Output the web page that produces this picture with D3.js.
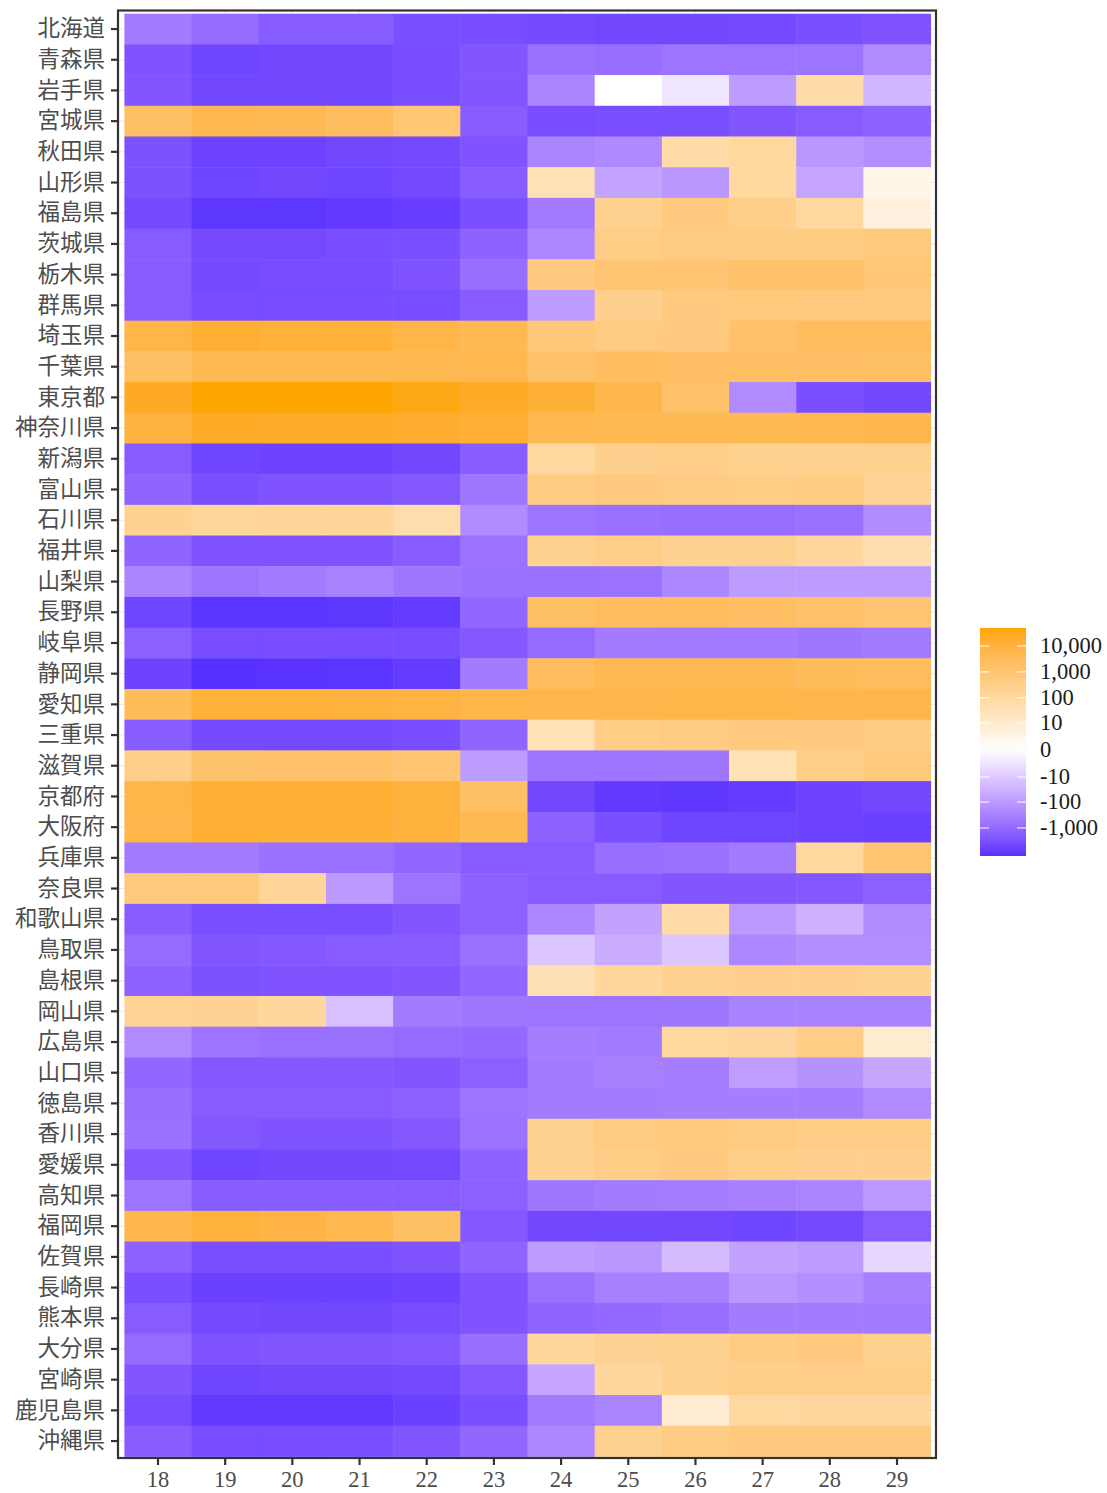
<!DOCTYPE html>
<html><head><meta charset="utf-8">
<script src="https://cdn.jsdelivr.net/npm/d3@7/dist/d3.min.js"></script>
<style>body{margin:0;background:#fff}</style>
</head><body><svg id="c" width="1107" height="1493"></svg>
<script>
const prefectures = ["北海道","青森県","岩手県","宮城県","秋田県","山形県","福島県","茨城県","栃木県","群馬県","埼玉県","千葉県","東京都","神奈川県","新潟県","富山県","石川県","福井県","山梨県","長野県","岐阜県","静岡県","愛知県","三重県","滋賀県","京都府","大阪府","兵庫県","奈良県","和歌山県","鳥取県","島根県","岡山県","広島県","山口県","徳島県","香川県","愛媛県","高知県","福岡県","佐賀県","長崎県","熊本県","大分県","宮崎県","鹿児島県","沖縄県"];
const years = ["18","19","20","21","22","23","24","25","26","27","28","29"];
const values = [
[-470,-900,-1920,-1920,-3290,-3665,-4085,-4550,-4550,-4085,-3290,-2650],
[-2650,-5070,-4550,-4550,-3665,-2380,-725,-808,-584,-584,-584,-199],
[-2380,-4550,-4550,-4550,-3665,-2380,-274,0,-2,-92,74,-25],
[1920,5070,4085,2380,900,-1720,-3665,-3290,-3290,-2380,-1920,-1385],
[-2955,-5650,-5650,-4550,-4085,-2650,-274,-220,74,103,-115,-177],
[-2955,-5070,-4550,-5070,-4085,-1720,34,-63,-115,103,-59,2],
[-4085,-9690,-9690,-8700,-7010,-3290,-470,245,525,340,103,4],
[-1920,-4085,-4085,-3665,-3290,-1385,-245,380,470,422,422,651],
[-1920,-4085,-3665,-3665,-2650,-808,525,1000,1000,1545,1385,808],
[-1920,-3665,-3665,-3665,-3665,-1920,-92,274,525,651,584,584],
[7010,14930,12030,12030,7010,4085,725,470,525,1385,2650,2650],
[1920,4550,4550,4550,5070,5070,1545,2380,2140,2140,2140,1920],
[25600,49000,49000,48000,35400,23000,13400,5650,1545,-199,-3290,-4550],
[9690,23000,20650,20650,18500,14930,5070,4550,4550,4550,5070,5650],
[-1920,-5070,-5650,-5650,-4550,-1720,103,274,340,245,245,245],
[-1245,-3290,-2650,-2650,-2140,-525,422,525,470,380,422,177],
[220,128,143,143,59,-199,-584,-725,-808,-808,-725,-199],
[-1245,-2650,-2650,-2650,-1920,-651,220,340,220,245,115,53],
[-274,-584,-422,-305,-525,-725,-725,-651,-245,-92,-92,-92],
[-5070,-10800,-10800,-9690,-7810,-1115,1920,2650,2650,2140,1545,1000],
[-1545,-3665,-3665,-3665,-3665,-2140,-900,-422,-470,-470,-525,-422],
[-5650,-12000,-11500,-10800,-7810,-422,2650,4550,4550,4085,2955,2650],
[2955,12030,12030,10800,8700,7010,5650,6290,7010,7010,6290,5650],
[-1720,-4085,-4085,-4085,-3665,-1245,34,380,470,525,525,422],
[340,1245,1385,1385,1000,-92,-584,-584,-525,34,340,651],
[7010,14930,14930,14930,10800,1920,-4550,-8700,-9690,-7810,-5650,-4550],
[6290,14930,13400,13400,10800,4550,-1385,-3290,-5070,-5070,-5650,-6290],
[-422,-422,-725,-725,-1115,-1920,-1920,-808,-725,-422,103,1000],
[651,651,143,-103,-584,-1385,-1920,-1920,-2380,-2380,-2140,-1545],
[-1720,-3290,-3290,-3290,-2380,-1545,-245,-67,74,-103,-34,-199],
[-900,-2380,-2140,-1920,-1720,-725,-12,-43,-12,-245,-159,-177],
[-1385,-2955,-2650,-2650,-2380,-1115,38,128,220,274,274,220],
[177,199,128,-16,-422,-525,-584,-584,-525,-305,-305,-305],
[-199,-584,-725,-725,-900,-1000,-380,-422,103,115,380,10],
[-1115,-2140,-2140,-2140,-2380,-1545,-422,-340,-380,-82,-143,-53],
[-808,-1920,-1920,-1920,-1545,-584,-422,-422,-380,-380,-380,-199],
[-725,-2140,-2650,-2650,-2140,-651,245,470,584,470,380,380],
[-2140,-5070,-4550,-4550,-4085,-1385,220,380,525,340,274,274],
[-584,-1720,-1720,-1920,-1920,-1545,-525,-422,-380,-340,-274,-103],
[5650,10800,7810,5070,1920,-2140,-4550,-4550,-4550,-5070,-4085,-1920],
[-1385,-3290,-3290,-3290,-2650,-1245,-92,-115,-20,-67,-92,-5],
[-3290,-6290,-6290,-6290,-5650,-2650,-725,-340,-340,-115,-159,-340],
[-1920,-4085,-4550,-4550,-3665,-2650,-1245,-1000,-808,-422,-422,-422],
[-900,-2650,-2380,-2380,-2140,-808,128,199,220,422,525,245],
[-2380,-5070,-4550,-4550,-4085,-2140,-59,128,245,305,305,305],
[-3665,-8700,-8700,-8700,-6290,-3290,-470,-274,8,103,115,115],
[-1720,-3665,-3665,-3290,-2380,-1115,-245,245,422,525,525,525]
];
const legendBreaks = [10000,1000,100,10,0,-10,-100,-1000];
const legendLabels = ["10,000","1,000","100","10","0","-10","-100","-1,000"];

const tr = v => Math.sign(v)*Math.log10(1+Math.abs(v));
const cells = [];
prefectures.forEach((p,i)=>years.forEach((yr,j)=>cells.push({p, yr, v: values[i][j]})));
const tvals = cells.map(d=>tr(d.v));
const tmin = d3.min(tvals), tmax = d3.max(tvals);
const M = Math.max(Math.abs(tmin), Math.abs(tmax));
const color = d3.scaleLinear().domain([-M,0,M]).range(["blue","white","orange"]).interpolate(d3.interpolateLab);

const svg = d3.select("#c");
const serif = '"Liberation Serif", "Noto Sans CJK JP", serif';
const x = d3.scaleBand().domain(years).range([124.4, 930.6]).padding(0);
const y = d3.scaleBand().domain(prefectures).range([13.7, 1456.4]).padding(0);

// grid
const g = svg.append("g");
g.selectAll(".gx").data(years).join("line")
  .attr("x1",d=>x(d)+x.bandwidth()/2).attr("x2",d=>x(d)+x.bandwidth()/2)
  .attr("y1",10).attr("y2",1458).attr("stroke","#ebebeb").attr("stroke-width",1.1);
g.selectAll(".gy").data(prefectures).join("line")
  .attr("y1",d=>y(d)+y.bandwidth()/2).attr("y2",d=>y(d)+y.bandwidth()/2)
  .attr("x1",118).attr("x2",936).attr("stroke","#ebebeb").attr("stroke-width",1.1);

svg.append("g").selectAll("rect").data(cells).join("rect")
  .attr("x",d=>x(d.yr)).attr("y",d=>y(d.p))
  .attr("width",x.bandwidth()+0.5).attr("height",y.bandwidth()+0.5)
  .attr("fill",d=>color(tr(d.v)));

svg.append("rect").attr("x",118).attr("y",10.5).attr("width",818).attr("height",1447.5)
  .attr("fill","none").attr("stroke","#333333").attr("stroke-width",2.2);

const ya = svg.append("g").attr("transform","translate(118,0)")
  .call(d3.axisLeft(y).tickSize(7).tickPadding(6));
ya.select(".domain").remove();
ya.selectAll("line").attr("stroke","#333333").attr("stroke-width",2.2);
ya.selectAll("text").attr("font-family",'"Noto Sans CJK JP", sans-serif').attr("font-size",22.5).attr("fill","#4d4d4d");

const xa = svg.append("g").attr("transform","translate(0,1458)")
  .call(d3.axisBottom(x).tickSize(7).tickPadding(6));
xa.select(".domain").remove();
xa.selectAll("line").attr("stroke","#333333").attr("stroke-width",2.2);
xa.selectAll("text").attr("font-family",serif).attr("font-size",22.5).attr("fill","#4d4d4d");

// legend
const ly = d3.scaleLinear().domain([tmin, tmax]).range([856, 628]);
const defs = svg.append("defs");
const grad = defs.append("linearGradient").attr("id","lg").attr("x1",0).attr("x2",0).attr("y1",1).attr("y2",0);
d3.range(0,41).forEach(k=>{
  const t = tmin + (tmax-tmin)*k/40;
  grad.append("stop").attr("offset",(k/40)).attr("stop-color",color(t));
});
svg.append("rect").attr("x",980).attr("y",628).attr("width",46).attr("height",228).attr("fill","url(#lg)");
const lt = svg.append("g");
legendBreaks.forEach((b,i)=>{
  const yy = ly(tr(b));
  lt.append("line").attr("x1",980).attr("x2",989).attr("y1",yy).attr("y2",yy).attr("stroke","#fff").attr("stroke-width",1);
  lt.append("line").attr("x1",1017).attr("x2",1026).attr("y1",yy).attr("y2",yy).attr("stroke","#fff").attr("stroke-width",1);
  lt.append("text").attr("x",1040).attr("y",yy).attr("dy","0.32em").attr("font-family",serif)
    .attr("font-size",22.5).attr("fill","#1a1a1a").text(legendLabels[i]);
});
</script></body></html>
